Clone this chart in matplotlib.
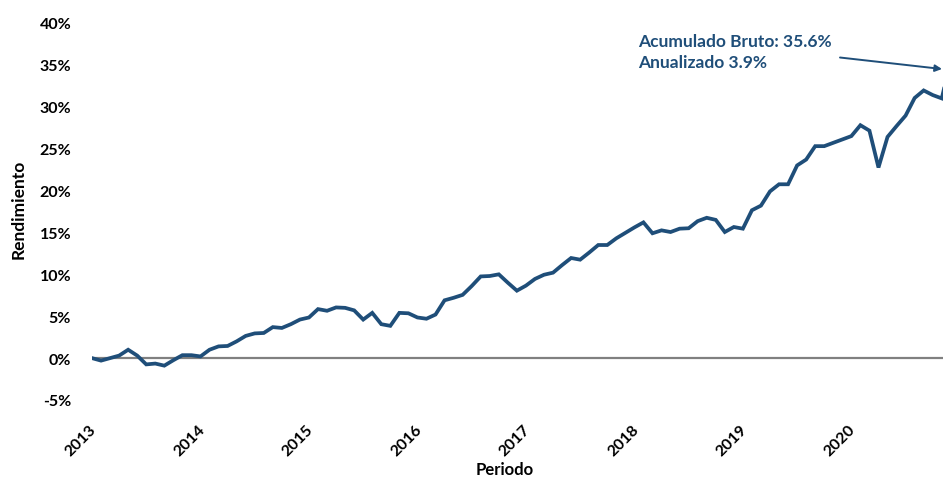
import matplotlib
matplotlib.use("Agg")
import matplotlib.pyplot as plt
from matplotlib.transforms import ScaledTranslation

plt.rcParams['font.family'] = ['Lato', 'DejaVu Sans']

# ---- data (monthly cumulative return, %) ----
start_year = 2013
returns = [
    0.0, -0.3, 0.0, 0.3, 1.0, 0.3, -0.75, -0.65, -0.9, -0.25, 0.35, 0.35,
    0.2, 1.0, 1.4, 1.45, 2.0, 2.65, 2.95, 3.0, 3.7, 3.6, 4.05, 4.6,
    4.85, 5.85, 5.65, 6.05, 6.0, 5.7, 4.6, 5.4, 4.05, 3.85, 5.4, 5.35,
    4.85, 4.7, 5.2, 6.9, 7.2, 7.55, 8.6, 9.75, 9.8, 10.0, 9.0, 8.05,
    8.65, 9.45, 9.95, 10.2, 11.1, 11.95, 11.75, 12.6, 13.5, 13.5, 14.3, 14.95,
    15.6, 16.2, 14.9, 15.25, 15.05, 15.45, 15.5, 16.35, 16.75, 16.5, 15.05, 15.65,
    15.45, 17.65, 18.2, 19.9, 20.75, 20.75, 23.0, 23.7, 25.3, 25.3, 25.7, 26.1,
    26.5, 27.8, 27.15, 22.75, 26.4, 27.7, 28.95, 31.05, 31.95, 31.4, 31.0, 35.6,
]
year_labels = ['2013', '2014', '2015', '2016', '2017', '2018', '2019', '2020']
y_ticks = [-5, 0, 5, 10, 15, 20, 25, 30, 35, 40]
annot_lines = ['Acumulado Bruto: 35.6%', 'Anualizado 3.9%']

LINE_COLOR = '#1F4E79'
W, H = 943, 481
fig = plt.figure(figsize=(W / 100, H / 100), dpi=100)
ax = fig.add_axes([92 / W, 80 / H, 851 / W, 377 / H])

x = list(range(len(returns)))
ax.axhline(0, color='#808080', lw=1.6, zorder=1)
ax.plot(x, returns, color=LINE_COLOR, lw=2.7, solid_joinstyle='miter', zorder=2)

ax.set_xlim(0, 851 / 9.04)
ax.set_ylim(-5, 40)

for s in ax.spines.values():
    s.set_visible(False)

ax.set_yticks(y_ticks)
ax.set_yticklabels([f'{v}%' for v in y_ticks], fontsize=11.5, fontweight='bold')
ax.set_xticks([12 * i for i in range(len(year_labels))])
ax.set_xticklabels(year_labels, fontsize=11.5, fontweight='bold',
                   rotation=45, ha='right', va='top', rotation_mode='anchor')
ax.tick_params(axis='both', length=0)
ax.tick_params(axis='y', pad=15)
ax.tick_params(axis='x', pad=16)
off = ScaledTranslation(-3 / 100, 0, fig.dpi_scale_trans)
for lbl in ax.get_xticklabels():
    lbl.set_transform(lbl.get_transform() + off)

ax.set_xlabel('Periodo', fontsize=12, fontweight='bold')
ax.xaxis.set_label_coords((505 - 92) / 851, (481 - 470 - 80) / 377)
ax.xaxis.label.set_va('center')
ax.set_ylabel('Rendimiento', fontsize=12.5, fontweight='bold')
ax.yaxis.set_label_coords((18.5 - 92) / 851, (481 - 209.5 - 80) / 377)
ax.yaxis.label.set_va('center')

def px_to_data(px, py):
    return ((px - 92) / 9.04, (359 - py) / 8.375)

tx1, ty1 = px_to_data(638, 46.7)
tx2, ty2 = px_to_data(638, 68.3)
ax.text(tx1, ty1, annot_lines[0], color=LINE_COLOR, fontsize=12.5,
        fontweight='bold', ha='left', va='baseline')
ax.text(tx2, ty2, annot_lines[1], color=LINE_COLOR, fontsize=12.5,
        fontweight='bold', ha='left', va='baseline')
ax.annotate('', xy=px_to_data(942, 70), xytext=px_to_data(840, 58.5),
            arrowprops=dict(arrowstyle='-|>', color=LINE_COLOR, lw=1.4,
                            mutation_scale=10, shrinkA=0, shrinkB=0),
            annotation_clip=False)

fig.savefig('out.png', dpi=100)
